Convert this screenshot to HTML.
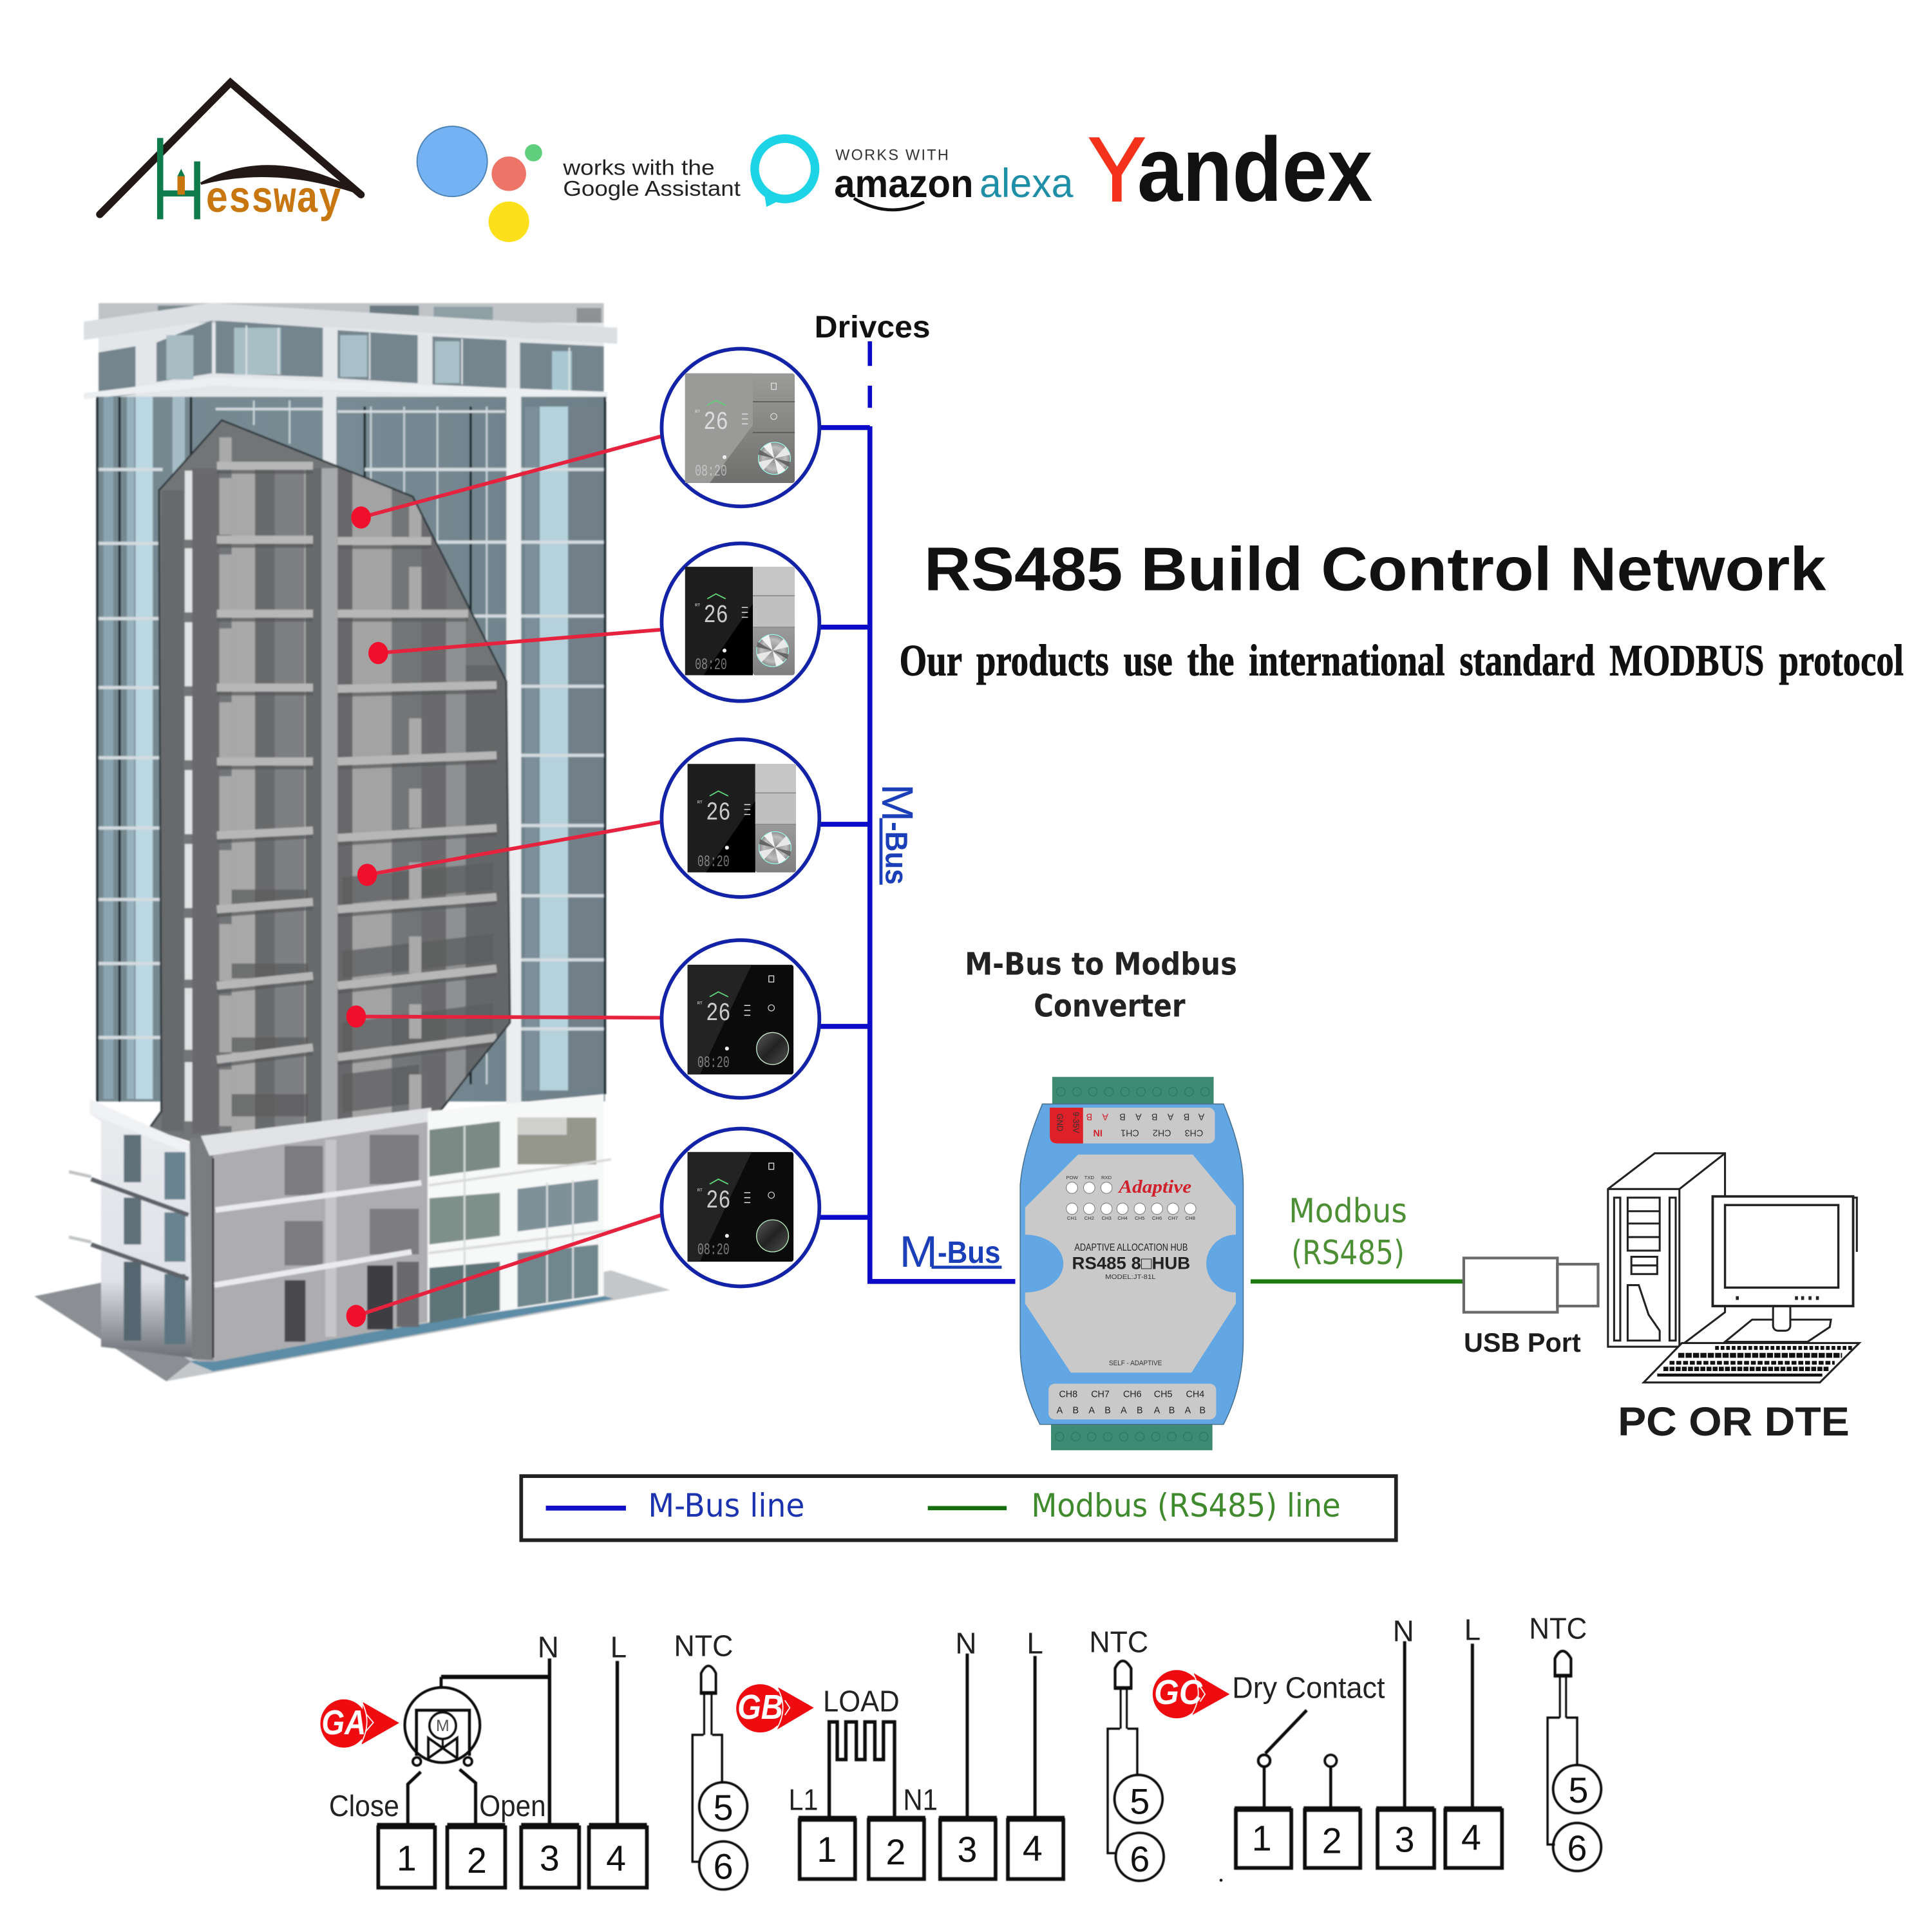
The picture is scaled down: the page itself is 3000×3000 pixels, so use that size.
<!DOCTYPE html>
<html><head><meta charset="utf-8"><title>RS485 Build Control Network</title>
<style>
html,body{margin:0;padding:0;background:#fff;width:3000px;height:3000px;overflow:hidden}
svg{display:block}
text{font-family:"Liberation Sans",sans-serif}
.w{font-size:24px;fill:#222}
.n{font-size:29px;fill:#111;text-anchor:middle}
.th{fill:#e8e8e8;font-family:"Liberation Mono",monospace}
</style></head><body>
<svg xmlns="http://www.w3.org/2000/svg" width="3000" height="3000" viewBox="0 0 1568 1568">
<defs>
<linearGradient id="glass" x1="0" y1="0" x2="1" y2="0"><stop offset="0" stop-color="#75878f"/><stop offset=".5" stop-color="#788b94"/><stop offset="1" stop-color="#6d7f88"/></linearGradient>
<linearGradient id="wing" x1="0" y1="0" x2="0" y2="1"><stop offset="0" stop-color="#e9ebee"/><stop offset=".7" stop-color="#e0e2e8"/><stop offset="1" stop-color="#6c7076"/></linearGradient>
<radialGradient id="knobr"><stop offset="0" stop-color="#8c8c8c"/><stop offset=".7" stop-color="#bdbdbd"/><stop offset="1" stop-color="#8a8a8a"/></radialGradient>
<linearGradient id="knobd" x1="0" y1="0" x2="1" y2="1"><stop offset="0" stop-color="#5a5a5a"/><stop offset=".5" stop-color="#222"/><stop offset="1" stop-color="#505050"/></linearGradient>
<linearGradient id="pan" x1="0" y1="0" x2="0" y2="1"><stop offset="0" stop-color="#bdbdbd"/><stop offset="1" stop-color="#7f7f7f"/></linearGradient>
<linearGradient id="pan1" x1="0" y1="0" x2="0" y2="1"><stop offset="0" stop-color="#9b9b99"/><stop offset="1" stop-color="#6f6f6e"/></linearGradient>
<filter id="soft" x="-5%" y="-5%" width="110%" height="110%"><feGaussianBlur stdDeviation=".6"/></filter>
<filter id="soft2"><feGaussianBlur stdDeviation=".3"/></filter>
<clipPath id="cutclip"><polygon points="180,341 335,403 411,553 414,830 381,871 350,911 348,916 160,928 121,916 131,902 129,398"/></clipPath>
<g id="kn"><circle r="13" fill="url(#knobr)" stroke="#9fe" stroke-width=".6"/><polygon points="0,0 -9,-9.5 -3,-13 " fill="#f2f2f2"/><polygon points="0,0 9,9.5 3,13" fill="#f2f2f2"/><polygon points="0,0 9,-9.5 13,-3" fill="#e8e8e8"/><polygon points="0,0 -9,9.5 -13,3" fill="#e8e8e8"/><polygon points="0,0 -13,-3 -12,-7" fill="#666"/><polygon points="0,0 13,3 12,7" fill="#666"/></g>
</defs>
<rect width="1568" height="1568" fill="#fff"/>

<!-- Hessway logo -->
<g>
<path d="M81 174 L187 67 L293 158" fill="none" stroke="#231815" stroke-width="6" stroke-linecap="round"/>
<path d="M163 149 Q222 117 295 158 Q225 133 163 149Z" fill="#231815" stroke="#231815" stroke-width="2"/>
<path d="M130 112 V178 M160 131 V178 M130 157 H160" stroke="#0f7a4a" stroke-width="5" fill="none"/>
<rect x="144" y="143" width="6" height="15" fill="#c8760f"/><path d="M144 143 L147 137 L150 143Z" fill="#0f7a4a"/>
<text x="167" y="172" font-size="36" font-weight="bold" fill="#c8760f" textLength="110" lengthAdjust="spacingAndGlyphs" style="font-family:'Liberation Mono',monospace">essway</text>
</g>

<!-- Google assistant -->
<circle cx="367" cy="131" r="28.5" fill="#74b2f4" stroke="#4d83b5" stroke-width="1"/>
<circle cx="413" cy="141" r="14" fill="#ee7468"/>
<circle cx="413" cy="180" r="16.5" fill="#fde01c"/>
<circle cx="433" cy="124" r="7" fill="#5fcf7e"/>
<text x="457" y="142" font-size="17.5" fill="#222" textLength="123" lengthAdjust="spacingAndGlyphs">works with the</text>
<text x="457" y="159" font-size="17.5" fill="#222" textLength="144" lengthAdjust="spacingAndGlyphs">Google Assistant</text>

<!-- Alexa -->
<circle cx="637" cy="137" r="24.5" fill="none" stroke="#1dd4e6" stroke-width="7"/>
<polygon points="620,155 634,162 622,168" fill="#1dd4e6"/>
<text x="678" y="130" font-size="12.5" fill="#333" letter-spacing="1.2" textLength="93" lengthAdjust="spacingAndGlyphs">WORKS WITH</text>
<text x="677" y="160" font-size="32" font-weight="bold" fill="#111" textLength="113" lengthAdjust="spacingAndGlyphs">amazon</text>
<text x="795" y="160" font-size="33" fill="#1f8fa8" textLength="76" lengthAdjust="spacingAndGlyphs">alexa</text>
<path d="M693 161 Q722 178 750 164" fill="none" stroke="#111" stroke-width="2.5"/>

<!-- Yandex -->
<text x="883" y="163" font-size="74" fill="#f4321c" stroke="#f4321c" stroke-width="1.2" textLength="47" lengthAdjust="spacingAndGlyphs">Y</text>
<text x="923" y="163" font-size="74" font-weight="bold" fill="#111" textLength="191" lengthAdjust="spacingAndGlyphs">andex</text>

<!-- Building -->
<g filter="url(#soft)">
<polygon points="28,1052 80,1043 160,1100 496,1031 544,1047 135,1121" fill="#c4c7ca"/>
<polygon points="28,1052 82,1041 140,1095 155,1105 135,1121" fill="#8b8f93"/>
<polygon points="154,1105 487,1051 498,1054 173,1113" fill="#5c8ca6"/>
<!-- top -->
<rect x="80" y="246" width="410" height="22" fill="#bfc3c6"/>
<rect x="128" y="248" width="30" height="10" fill="#7b8a90"/>
<rect x="300" y="248" width="40" height="14" fill="#6d7c82"/><rect x="352" y="249" width="48" height="15" fill="#8ea0a4"/><rect x="468" y="250" width="20" height="16" fill="#8f9295"/>
<rect x="80" y="262" width="410" height="60" fill="#e4e7e9"/>
<polygon points="80,286 110,281 110,320 80,324" fill="#74858e"/>
<polygon points="127,278 172,260 172,303 127,310" fill="#74858e"/>
<polygon points="175,260 262,266 262,306 175,303" fill="#74858e"/>
<polygon points="274,268 339,272 339,311 274,307" fill="#74858e"/>
<polygon points="351,273 411,276 411,315 351,312" fill="#74858e"/>
<polygon points="422,278 490,281 490,320 422,317" fill="#74858e"/>
<rect x="135" y="272" width="22" height="36" fill="#a8bcc4"/>
<rect x="190" y="266" width="38" height="38" fill="#a9bfc6"/><rect x="276" y="272" width="22" height="34" fill="#a9c0c8"/><rect x="353" y="277" width="20" height="34" fill="#a9c0c8"/><rect x="448" y="285" width="16" height="32" fill="#a9c8d2"/>
<path d="M200 264 V304 M226 266 V304 M300 270 V308 M375 275 V312 M462 282 V318" stroke="#dfe5e8" stroke-width="1.2"/>
<polygon points="68,261 172,246 501,266 501,279 172,260 68,276" fill="#dcdfe2"/>
<polygon points="68,319 174,306 493,318 493,325 174,313 68,324" fill="#eceef0"/>
<!-- glass facade -->
<rect x="79" y="322" width="412" height="572" fill="url(#glass)"/>
<rect x="103" y="322" width="6" height="570" fill="#98b2bd"/>
<rect x="110" y="322" width="14" height="570" fill="#bcd8e3"/>
<rect x="84" y="322" width="8" height="570" fill="#8aa5b1"/>
<rect x="140" y="322" width="10" height="90" fill="#a5bcc6"/>
<rect x="438" y="330" width="23" height="555" fill="#b5d1dc"/>
<rect x="464" y="330" width="25" height="555" fill="#727f88"/>
<rect x="426" y="330" width="11" height="555" fill="#7c8f9a"/>
<path d="M79 322 V894 M97 322 V894 M155 322 V370 M296 330 V410 M382 330 V880 M491 322 V888" stroke="#0e1a20" stroke-width="1.8"/>
<path d="M206 325 V345 M235 325 V360 M301 330 V410 M328 330 V410 M355 330 V470 M395 330 V880" stroke="#c9d4d9" stroke-width="1.4"/>
<g stroke="#d3dbdf" stroke-width="2.6">
<path d="M80 381 H132 M80 441 H132 M80 502 H132 M80 558 H132 M80 615 H132 M80 672 H132 M80 730 H132 M80 782 H132 M80 842 H132"/>
<path d="M296 381 H490 M330 440 H490 M380 500 H490 M411 557 H490 M422 613 H490 M422 670 H490 M422 727 H490 M422 779 H490 M422 835 H490"/>
<path d="M175 332 H262 M274 334 H410" stroke-width="2"/>
</g>
<rect x="411" y="318" width="12" height="579" fill="#ecedef"/>
<rect x="262" y="318" width="11" height="70" fill="#e6e9eb"/>

<!-- Cutaway -->
<g clip-path="url(#cutclip)">
<rect x="120" y="330" width="300" height="600" fill="#727476"/>
<rect x="131" y="398" width="18" height="520" fill="#68696b"/>
<rect x="156" y="380" width="22" height="540" fill="#6a6b6d"/>
<rect x="188" y="380" width="19" height="540" fill="#a8a8a9"/>
<rect x="207" y="380" width="16" height="540" fill="#696a6c"/>
<rect x="223" y="380" width="24" height="540" fill="#7e7f81"/>
<rect x="247" y="380" width="1.6" height="540" fill="#b0b0b0"/>
<rect x="248" y="380" width="13" height="540" fill="#686a6c"/>
<rect x="274" y="380" width="12" height="540" fill="#67686a"/>
<rect x="286" y="380" width="32" height="540" fill="#a3a3a4"/>
<rect x="318" y="380" width="14" height="540" fill="#737476"/>
<rect x="342" y="420" width="20" height="500" fill="#6a6b6d"/>
<rect x="362" y="500" width="16" height="420" fill="#8f9091"/>
<rect x="378" y="540" width="36" height="380" fill="#656668"/>
<g fill="#5b5c5e" opacity=".75">
<rect x="188" y="722" width="62" height="12"/><rect x="188" y="782" width="62" height="12"/><rect x="188" y="842" width="62" height="12"/><rect x="188" y="888" width="62" height="18"/>
<polygon points="278,712 400,700 400,722 278,734"/><polygon points="278,772 400,758 400,780 278,794"/><polygon points="278,830 400,814 400,838 278,854"/><polygon points="278,872 340,864 340,895 278,903"/>
</g>
<g fill="#a9a9aa">
<rect x="178" y="355" width="10" height="22"/><rect x="178" y="388" width="10" height="46"/><rect x="178" y="450" width="10" height="46"/><rect x="178" y="510" width="10" height="46"/><rect x="178" y="570" width="10" height="46"/><rect x="178" y="630" width="10" height="46"/><rect x="178" y="690" width="10" height="46"/><rect x="178" y="750" width="10" height="46"/><rect x="178" y="808" width="10" height="46"/><rect x="178" y="868" width="10" height="46"/>
<rect x="332" y="408" width="10" height="30"/><rect x="332" y="460" width="10" height="36"/><rect x="332" y="583" width="10" height="32"/><rect x="332" y="640" width="10" height="32"/><rect x="332" y="700" width="10" height="30"/><rect x="332" y="760" width="10" height="30"/><rect x="332" y="815" width="10" height="28"/><rect x="332" y="872" width="10" height="30"/>
</g>
<g fill="#e0e2e3">
<rect x="150" y="382" width="6" height="56"/><rect x="150" y="445" width="6" height="52"/><rect x="150" y="505" width="6" height="52"/><rect x="150" y="565" width="6" height="52"/><rect x="150" y="625" width="6" height="52"/><rect x="150" y="685" width="6" height="52"/><rect x="150" y="745" width="6" height="50"/><rect x="150" y="802" width="6" height="50"/><rect x="150" y="862" width="6" height="48"/>
</g>
<g stroke="#58595b" stroke-width="3" fill="none" opacity=".7">
<path d="M176 383 H254 M176 443 H254 M176 503 H254 M176 563 H254 M176 623 H254 M176 683 L254 679 M176 743 L254 737 M176 805 L254 797 M176 865 L254 855"/>
<path d="M274 444 H350 M274 503 H380 M274 564 L403 561 M274 623 L403 618 M274 685 L403 677 M274 743 L403 733 M274 805 L403 791 M274 863 L403 847"/>
</g>
<g stroke="#b7b7b8" stroke-width="6.5" fill="none">
<path d="M176 378 H254 M176 438 H254 M176 498 H254 M176 558 H254 M176 618 H254 M176 678 L254 674 M176 738 L254 732 M176 800 L254 792 M176 860 L254 850"/>
<path d="M274 439 H350 M274 498 H380 M274 559 L403 556 M274 618 L403 613 M274 680 L403 672 M274 738 L403 728 M274 800 L403 786 M274 858 L403 842"/>
</g>
<rect x="261" y="380" width="13" height="540" fill="#a8a9aa"/>
</g>
<path d="M121 916 L131 902 L129 398 L180 341 L335 403 L411 553 L414 830 L381 871 L350 911" fill="none" stroke="#2b343a" stroke-width="1.5"/>
<!-- lower white left -->
<polygon points="73,892 73,904 82,910 82,1093 156,1102 156,929 121,914" fill="url(#wing)"/>
<polygon points="73,892 121,914 153,929 153,936 73,904" fill="#f1f2f4"/>
<rect x="100.500" y="921" width="14" height="38.500" fill="#5e7079"/><rect x="133.500" y="935" width="17" height="38.500" fill="#6b8390"/>
<rect x="100.500" y="972" width="14" height="38" fill="#5e7079"/><rect x="133.500" y="984" width="17" height="40" fill="#6b8390"/>
<rect x="100.500" y="1024" width="14" height="64" fill="#55666f"/><rect x="133.500" y="1034" width="17" height="57" fill="#5c7480"/>
<path d="M74 957 L153 986 M74 1010 L153 1038" stroke="#5e6267" stroke-width="3.5" fill="none"/>
<path d="M56 951 L74 955 M56 1004 L74 1008" stroke="#c0c2c4" stroke-width="2.5" fill="none"/>
<!-- lower central -->
<polygon points="160,925 350,900 350,1072 175,1105 160,1105" fill="#adadb1"/>
<polygon points="154,923 173,925 173,1104 156,1103" fill="#7a7b7d"/>
<polygon points="163,922 350,899 350,910 170,938" fill="#e2e3e5"/>
<rect x="231" y="930" width="31" height="40" fill="#7b7b7f"/><rect x="300" y="921" width="40" height="40" fill="#7d7d80"/>
<rect x="231" y="991" width="31" height="36" fill="#7b7b7f"/><rect x="300" y="981" width="40" height="37" fill="#7d7d80"/>
<rect x="231" y="1039" width="17" height="50" fill="#4a4a4e"/><rect x="298" y="1027" width="21" height="52" fill="#3e3e42"/><rect x="322" y="1024" width="18" height="53" fill="#6b6b6d"/>
<rect x="264" y="925" width="9" height="160" fill="#c6c6c8"/>
<path d="M175 982 L342 960 M174 1043 L334 1016" stroke="#eaebec" stroke-width="4.5"/>
<path d="M173 940 V1102" stroke="#26282b" stroke-width="1.5"/>
<!-- lower right -->
<polygon points="347,902 490,888 490,1052 347,1073" fill="#f7f8f8"/>
<polygon points="348.500,917 405.700,910 405.700,947.400 348.500,955" fill="#7b8a85"/>
<rect x="420" y="907" width="64" height="38" fill="#96978c"/><rect x="420" y="907" width="40" height="14" fill="#cfd0cc"/>
<polygon points="348.500,972.500 405.700,968 405.700,1003 348.500,1010" fill="#7f908b"/>
<polygon points="420,965 485.500,957 485.500,991 420,999.500" fill="#7e9098"/>
<polygon points="348.500,1029 405.700,1024 405.700,1063.500 348.500,1074" fill="#5d7478"/>
<polygon points="420,1017 485.500,1010 485.500,1051 420,1061" fill="#6f878e"/>
<path d="M377 914 V1070 M444 960 V1058 M465 958 V1054" stroke="#d7dcdc" stroke-width="1.5"/>
<path d="M348 962 L496 941 M348 1017 L500 998" stroke="#d9dadb" stroke-width="2"/>
</g>

<!-- Red connectors -->
<g stroke="#e6233f" stroke-width="3" fill="none">
<path d="M293 420 L537 354"/><path d="M307 530 L537 511"/><path d="M298 710 L537 667"/><path d="M289 825 L537 826"/><path d="M289 1068 L537 986"/>
</g>
<g fill="#f0102e"><ellipse cx="293" cy="420" rx="8" ry="9"/><ellipse cx="307" cy="530" rx="8" ry="9"/><ellipse cx="298" cy="710" rx="8" ry="9"/><ellipse cx="289" cy="825" rx="8" ry="9"/><ellipse cx="289" cy="1068" rx="8" ry="9"/></g>

<!-- Bus -->
<g stroke="#0a0ac8" fill="none" stroke-width="4">
<path d="M706 277 V297 M706 313 V331" stroke-width="3.500"/>
<path d="M706 346 V1040 H824"/>
<path d="M665 347 H706 M665 509 H706 M665 669 H706 M665 833 H706 M665 988 H706"/>
</g>
<g fill="#fff" stroke="#1323a8" stroke-width="3">
<circle cx="601" cy="347" r="64"/><circle cx="601" cy="505" r="64"/><circle cx="601" cy="664" r="64"/><circle cx="601" cy="827" r="64"/><circle cx="601" cy="980" r="64"/>
</g>

<!-- Thermostat 1 gray -->
<g transform="translate(556,303)">
<rect width="89" height="89" rx="2" fill="url(#pan1)"/>
<polygon points="45,0 55,0 55,42 20,89 0,89 0,0" fill="#9a9a98"/>
<path d="M55 23 H89 M55 48 H89" stroke="#55544f" stroke-width=".8"/>
<path d="M18 26 L25 22 L33 26" stroke="#5fce76" stroke-width="1" fill="none"/>
<text class="th" x="15" y="45" font-size="21" textLength="20" lengthAdjust="spacingAndGlyphs" opacity=".85">26</text>
<text class="th" x="8" y="83" font-size="13" textLength="26" lengthAdjust="spacingAndGlyphs" opacity=".55">08:20</text>
<text class="th" x="8" y="32" font-size="3.5">RT</text>
<use href="#kn" x="72.500" y="69"/>
<circle cx="72" cy="35" r="2.500" fill="none" stroke="#ddd" stroke-width=".6"/>
<rect x="70" y="8" width="4" height="5" fill="none" stroke="#ddd" stroke-width=".7"/>
<circle cx="32" cy="68" r="1.600" fill="#eee"/>
<path d="M46 33 H51 M46 37 H51 M46 41 H51" stroke="#ddd" stroke-width=".8"/>
</g>
<!-- Thermostat 2 -->
<g transform="translate(556,460)">
<rect width="55" height="88" fill="#1d1d1d"/><polygon points="55,0 55,30 15,88 55,88" fill="#000"/>
<rect x="55" y="0" width="34" height="88" rx="2" fill="url(#pan)"/>
<rect x="55" y="0" width="34" height="23" fill="#c6c6c6"/><rect x="55" y="24" width="34" height="25" fill="#c0c0c0"/>
<path d="M55 23.500 H89 M55 49 H89" stroke="#7e7e7e" stroke-width=".6"/>
<path d="M18 26 L25 22 L33 26" stroke="#5fce76" stroke-width="1" fill="none"/>
<text class="th" x="15" y="45" font-size="21" textLength="20" lengthAdjust="spacingAndGlyphs" opacity=".85">26</text>
<text class="th" x="8" y="83" font-size="13" textLength="26" lengthAdjust="spacingAndGlyphs" opacity=".5">08:20</text>
<text class="th" x="8" y="32" font-size="3.500">RT</text>
<use href="#kn" x="71" y="68"/>
<circle cx="32" cy="68" r="1.600" fill="#eee"/>
<path d="M46 33 H51 M46 37 H51 M46 41 H51" stroke="#ddd" stroke-width=".8"/>
</g>
<!-- Thermostat 3 -->
<g transform="translate(558,620)">
<rect width="55" height="88" fill="#1d1d1d"/><polygon points="55,0 55,30 15,88 55,88" fill="#000"/>
<rect x="55" y="0" width="33" height="88" rx="2" fill="url(#pan)"/>
<rect x="55" y="0" width="33" height="23" fill="#c6c6c6"/><rect x="55" y="24" width="33" height="25" fill="#c0c0c0"/>
<path d="M55 23.500 H88 M55 49 H88" stroke="#7e7e7e" stroke-width=".6"/>
<path d="M18 26 L25 22 L33 26" stroke="#5fce76" stroke-width="1" fill="none"/>
<text class="th" x="15" y="45" font-size="21" textLength="20" lengthAdjust="spacingAndGlyphs" opacity=".85">26</text>
<text class="th" x="8" y="83" font-size="13" textLength="26" lengthAdjust="spacingAndGlyphs" opacity=".5">08:20</text>
<text class="th" x="8" y="32" font-size="3.500">RT</text>
<use href="#kn" x="71" y="68"/>
<circle cx="32" cy="68" r="1.600" fill="#eee"/>
<path d="M46 33 H51 M46 37 H51 M46 41 H51" stroke="#ddd" stroke-width=".8"/>
</g>
<!-- Thermostat 4 -->
<g transform="translate(558,783)">
<rect width="86" height="89" rx="2" fill="#0b0b0b"/><polygon points="0,0 52,0 10,89 0,89" fill="#232323"/>
<path d="M18 26 L25 22 L33 26" stroke="#5fce76" stroke-width="1" fill="none"/>
<text class="th" x="15" y="45" font-size="21" textLength="20" lengthAdjust="spacingAndGlyphs" opacity=".85">26</text>
<text class="th" x="8" y="83" font-size="13" textLength="26" lengthAdjust="spacingAndGlyphs" opacity=".5">08:20</text>
<text class="th" x="8" y="32" font-size="3.500">RT</text>
<circle cx="69" cy="68" r="13" fill="url(#knobd)" stroke="#c8e8d0" stroke-width=".7"/>
<circle cx="68" cy="35" r="2.500" fill="none" stroke="#ddd" stroke-width=".6"/>
<rect x="66" y="9" width="4" height="5" fill="none" stroke="#ddd" stroke-width=".7"/>
<circle cx="32" cy="68" r="1.600" fill="#eee"/>
<path d="M46 33 H51 M46 37 H51 M46 41 H51" stroke="#ddd" stroke-width=".8"/>
</g>
<!-- Thermostat 5 -->
<g transform="translate(558,935)">
<rect width="86" height="89" rx="2" fill="#0b0b0b"/><polygon points="0,0 52,0 10,89 0,89" fill="#232323"/>
<path d="M18 26 L25 22 L33 26" stroke="#5fce76" stroke-width="1" fill="none"/>
<text class="th" x="15" y="45" font-size="21" textLength="20" lengthAdjust="spacingAndGlyphs" opacity=".85">26</text>
<text class="th" x="8" y="83" font-size="13" textLength="26" lengthAdjust="spacingAndGlyphs" opacity=".5">08:20</text>
<text class="th" x="8" y="32" font-size="3.500">RT</text>
<circle cx="69" cy="68" r="13" fill="url(#knobd)" stroke="#b8f0c0" stroke-width=".7"/>
<circle cx="68" cy="35" r="2.500" fill="none" stroke="#ddd" stroke-width=".6"/>
<rect x="66" y="9" width="4" height="5" fill="none" stroke="#ddd" stroke-width=".7"/>
<circle cx="32" cy="68" r="1.600" fill="#eee"/>
<path d="M46 33 H51 M46 37 H51 M46 41 H51" stroke="#ddd" stroke-width=".8"/>
</g>

<!-- Titles -->
<text x="661" y="274" font-size="25" font-weight="bold" fill="#111" textLength="94" lengthAdjust="spacingAndGlyphs">Drivces</text>
<text x="750" y="479" font-size="50" font-weight="bold" fill="#111" textLength="732" lengthAdjust="spacingAndGlyphs">RS485 Build Control Network</text>
<text x="730" y="548" font-size="36" font-weight="bold" fill="#111" stroke="#111" stroke-width=".5" textLength="815" lengthAdjust="spacingAndGlyphs" style="font-family:'Liberation Serif',serif" word-spacing="6">Our products use the international standard MODBUS protocol</text>

<!-- M-Bus labels -->
<g transform="translate(716,636) rotate(90)">
<text x="0" y="0" font-size="36" fill="#1a3fb8" textLength="31" lengthAdjust="spacingAndGlyphs">M</text>
<text x="31" y="-3" font-size="25" font-weight="bold" fill="#1a3fb8" textLength="51" lengthAdjust="spacingAndGlyphs">-Bus</text>
<path d="M28 1 H82" stroke="#1a3fb8" stroke-width="2.500"/>
</g>
<text x="730" y="1028" font-size="36" fill="#1a3fb8" textLength="31" lengthAdjust="spacingAndGlyphs">M</text>
<text x="761" y="1025" font-size="25" font-weight="bold" fill="#1a3fb8" textLength="51" lengthAdjust="spacingAndGlyphs">-Bus</text>
<path d="M756 1028.500 H813" stroke="#1a3fb8" stroke-width="2.500"/>

<text x="783" y="791" font-size="25" font-weight="bold" fill="#222" textLength="221" lengthAdjust="spacingAndGlyphs" style="font-family:'DejaVu Sans',sans-serif">M-Bus to Modbus</text>
<text x="839" y="825" font-size="25" font-weight="bold" fill="#222" textLength="123" lengthAdjust="spacingAndGlyphs" style="font-family:'DejaVu Sans',sans-serif">Converter</text>

<!-- Hub -->
<rect x="854" y="874" width="131" height="24" fill="#3f8a72"/>
<rect x="853" y="1155" width="131" height="22" fill="#3f8a72"/>
<g fill="none" stroke="#2f7a62" stroke-width=".8">
<circle cx="861" cy="886" r="3.500"/><circle cx="874" cy="886" r="3.500"/><circle cx="887" cy="886" r="3.500"/><circle cx="900" cy="886" r="3.500"/><circle cx="913" cy="886" r="3.500"/><circle cx="926" cy="886" r="3.500"/><circle cx="939" cy="886" r="3.500"/><circle cx="952" cy="886" r="3.500"/><circle cx="965" cy="886" r="3.500"/><circle cx="978" cy="886" r="3.500"/>
<circle cx="860" cy="1166" r="3.500"/><circle cx="873" cy="1166" r="3.500"/><circle cx="886" cy="1166" r="3.500"/><circle cx="899" cy="1166" r="3.500"/><circle cx="912" cy="1166" r="3.500"/><circle cx="925" cy="1166" r="3.500"/><circle cx="938" cy="1166" r="3.500"/><circle cx="951" cy="1166" r="3.500"/><circle cx="964" cy="1166" r="3.500"/><circle cx="977" cy="1166" r="3.500"/>
</g>
<path d="M846 896 H993 Q1009 935 1009 962 V1088 Q1009 1125 993 1156 H844 Q828 1125 828 1093 V962 Q830 935 846 896Z" fill="#62a6e4" stroke="#47708f" stroke-width=".8"/>
<rect x="852" y="899" width="134" height="29" rx="5" fill="#c9c9c9"/>
<path d="M852 899 H879 V928 H858 Q852 928 852 922Z" fill="#de2028"/>
<rect x="851" y="1123" width="136" height="29" rx="5" fill="#c9c9c9"/>
<path d="M875 937 H968 L1003 979 V1002 A24 23.500 0 0 0 1003 1049 V1058 L967 1114 H869 L832 1058 V1049 A31 23.500 0 0 0 832 1002 V980Z" fill="#c9c9c9"/>
<g fill="#fff" stroke="#777" stroke-width=".5">
<circle cx="870" cy="964" r="4.600"/><circle cx="884" cy="964" r="4.600"/><circle cx="898" cy="964" r="4.600"/>
<circle cx="870" cy="981" r="4.600"/><circle cx="884" cy="981" r="4.600"/><circle cx="898" cy="981" r="4.600"/><circle cx="911" cy="981" r="4.600"/><circle cx="925" cy="981" r="4.600"/><circle cx="939" cy="981" r="4.600"/><circle cx="952" cy="981" r="4.600"/><circle cx="966" cy="981" r="4.600"/>
</g>
<g font-size="4" fill="#333" text-anchor="middle">
<text x="870" y="957">POW</text><text x="884" y="957">TXD</text><text x="898" y="957">RXD</text>
<text x="870" y="990">CH1</text><text x="884" y="990">CH2</text><text x="898" y="990">CH3</text><text x="911" y="990">CH4</text><text x="925" y="990">CH5</text><text x="939" y="990">CH6</text><text x="952" y="990">CH7</text><text x="966" y="990">CH8</text>
</g>
<text x="908" y="968" font-size="15" font-weight="bold" font-style="italic" fill="#d0202c" textLength="59" lengthAdjust="spacingAndGlyphs" style="font-family:'Liberation Serif',serif">Adaptive</text>
<text x="872" y="1015" font-size="8" fill="#222" textLength="92" lengthAdjust="spacingAndGlyphs">ADAPTIVE ALLOCATION HUB</text>
<text x="870" y="1030" font-size="14" font-weight="bold" fill="#222" textLength="96" lengthAdjust="spacingAndGlyphs">RS485 8□HUB</text>
<text x="897" y="1038" font-size="5.500" fill="#333" textLength="41" lengthAdjust="spacingAndGlyphs">MODEL:JT-81L</text>
<text x="900" y="1108" font-size="6" fill="#333" textLength="43" lengthAdjust="spacingAndGlyphs">SELF - ADAPTIVE</text>
<g font-size="7.500" fill="#222" text-anchor="middle">
<text x="867" y="1134">CH8</text><text x="893" y="1134">CH7</text><text x="919" y="1134">CH6</text><text x="944" y="1134">CH5</text><text x="970" y="1134">CH4</text>
<text x="860" y="1147">A</text><text x="873" y="1147">B</text><text x="886" y="1147">A</text><text x="899" y="1147">B</text><text x="912" y="1147">A</text><text x="925" y="1147">B</text><text x="939" y="1147">A</text><text x="951" y="1147">B</text><text x="964" y="1147">A</text><text x="976" y="1147">B</text>
</g>
<g font-size="7.500" fill="#333" text-anchor="middle">
<text transform="translate(975,904) rotate(180)">A</text><text transform="translate(963,904) rotate(180)">B</text><text transform="translate(950,904) rotate(180)">A</text><text transform="translate(937,904) rotate(180)">B</text><text transform="translate(924,904) rotate(180)">A</text><text transform="translate(911,904) rotate(180)">B</text>
<text transform="translate(969,917) rotate(180)">CH3</text><text transform="translate(943,917) rotate(180)">CH2</text><text transform="translate(917,917) rotate(180)">CH1</text>
<text transform="translate(897,904) rotate(180)" fill="#d0202c">A</text><text transform="translate(884,904) rotate(180)" fill="#d0202c">B</text><text transform="translate(891,917) rotate(180)" fill="#d0202c" font-weight="bold">IN</text>
<text transform="translate(858,911) rotate(90)" font-size="6.500">GND</text><text transform="translate(871,911) rotate(90)" font-size="6.500">9-35V</text>
</g>

<!-- Modbus -->
<path d="M1015 1040 H1188" stroke="#1f7a12" stroke-width="3.500"/>
<text x="1046" y="992" font-size="27" fill="#4c8f34" textLength="96" lengthAdjust="spacingAndGlyphs" style="font-family:'DejaVu Sans',sans-serif">Modbus</text>
<text x="1048" y="1026" font-size="27" fill="#4c8f34" textLength="92" lengthAdjust="spacingAndGlyphs" style="font-family:'DejaVu Sans',sans-serif">(RS485)</text>

<!-- USB -->
<g fill="#fff" stroke="#6a6a6a" stroke-width="2.200">
<rect x="1188" y="1021" width="76" height="44"/><rect x="1264" y="1026" width="33" height="34"/>
</g>
<text x="1188" y="1097" font-size="22" font-weight="bold" fill="#1c1c1c" textLength="95" lengthAdjust="spacingAndGlyphs">USB Port</text>
<text x="1313" y="1165" font-size="33" font-weight="bold" fill="#1c1c1c" textLength="188" lengthAdjust="spacingAndGlyphs">PC OR DTE</text>

<!-- Computer -->
<g fill="#fff" stroke="#222" stroke-width="1.600">
<polygon points="1343,936 1400,936 1400,1065 1363,1093 1305,1093 1305,965"/>
<path d="M1305 965 H1363 L1400 936 M1363 965 V1093" fill="none"/>
<rect x="1310" y="972" width="5" height="116"/><rect x="1355" y="972" width="5" height="116"/>
<rect x="1321" y="972" width="26" height="43"/><path d="M1321 983 H1347 M1321 993 H1347 M1321 1004 H1347" fill="none"/>
<rect x="1324" y="1020" width="21" height="14"/><path d="M1324 1027 H1345" fill="none"/>
<path d="M1321 1043 H1330 L1338 1067 L1347 1080 V1088 H1321Z"/>
<polygon points="1422,1071 1486,1071 1485,1077 1467,1089 1400,1089"/>
<rect x="1439" y="1058" width="14" height="22" rx="4"/>
<rect x="1390" y="971" width="114" height="89" stroke-width="2"/>
<path d="M1504 972 H1507 V1016" fill="none"/>
<rect x="1400" y="978" width="92" height="67" stroke-width="1.800"/>
<polygon points="1365,1090 1509,1090 1477,1122 1334,1122"/>
</g>
<path d="M1410 1052 V1055 M1458 1052 V1055 M1463 1052 V1055 M1469 1052 V1055 M1475 1052 V1055" stroke="#222" stroke-width="2.400"/>
<g fill="none" stroke="#111">
<path d="M1392 1094 H1503" stroke-width="3.200" stroke-dasharray="3 1.500"/>
<path d="M1362 1100 H1495" stroke-width="4" stroke-dasharray="5 1"/>
<path d="M1355 1106 H1489" stroke-width="3" stroke-dasharray="4 1.500"/>
<path d="M1350 1111 H1484" stroke-width="3.500" stroke-dasharray="4 1"/>
<path d="M1345 1116 H1479" stroke-width="2.400"/>
</g>

<!-- Legend -->
<rect x="423" y="1198" width="710" height="52" fill="#fff" stroke="#222" stroke-width="3"/>
<path d="M443 1224 H508" stroke="#1010c8" stroke-width="4"/>
<path d="M753 1224 H817" stroke="#176e0e" stroke-width="3.500"/>
<text x="526" y="1231" font-size="26" fill="#1c33b0" textLength="127" lengthAdjust="spacingAndGlyphs" style="font-family:'DejaVu Sans',sans-serif">M-Bus line</text>
<text x="837" y="1231" font-size="26" fill="#3f8a2c" textLength="251" lengthAdjust="spacingAndGlyphs" style="font-family:'DejaVu Sans',sans-serif">Modbus (RS485) line</text>

<!-- Wiring GA -->
<g fill="none" stroke="#111" stroke-width="3" filter="url(#soft2)">
<rect x="307" y="1483" width="46" height="49"/><rect x="363" y="1483" width="47" height="49"/><rect x="423" y="1483" width="47" height="49"/><rect x="478" y="1483" width="47" height="49"/>
<path d="M306 1482 H353 M363 1482 H410 M423 1482 H470 M478 1482 H525" stroke-width="5"/>
<path d="M446 1346 V1483 M501 1348 V1483" stroke-width="2.800"/>
<path d="M358 1361 H446" stroke-width="3.500"/><path d="M358 1361 V1370" stroke-width="2.500"/>
<circle cx="359" cy="1400" r="30.500" stroke-width="2.200"/>
<path d="M338 1425 V1388 H381 V1425" stroke-width="2.400"/>
<circle cx="359.300" cy="1400.500" r="10.800" stroke-width="1.800"/>
<path d="M347.600 1410.500 V1427 L371 1410.500 V1427 Z" stroke-width="2"/>
<path d="M359.300 1411 V1419" stroke-width="1.600"/>
<circle cx="338.300" cy="1429.600" r="3.300" stroke-width="2"/><circle cx="379.800" cy="1429.600" r="3.300" stroke-width="2"/>
<path d="M341.500 1438 L331 1448 V1483 M373 1436 L386 1447 V1483" stroke-width="2.600"/>
<!-- NTC A -->
<path d="M569 1374 V1358 Q575 1346 581 1358 V1374Z" stroke-width="2"/><path d="M568 1374 H582" stroke-width="3"/>
<path d="M571.500 1375 V1408 M577.500 1375 V1408" stroke-width="1.600"/>
<path d="M571 1408 H562 V1511 H568 M578 1408 H586 V1447" stroke-width="1.800"/>
<circle cx="587" cy="1466" r="19.500" stroke-width="2"/><circle cx="587" cy="1514" r="19.500" stroke-width="2"/>
<!-- GB -->
<rect x="649" y="1477" width="45" height="48"/><rect x="705" y="1477" width="45" height="48"/><rect x="763" y="1477" width="45" height="48"/><rect x="818" y="1477" width="45" height="48"/>
<path d="M648 1476 H695 M704 1476 H751 M762 1476 H809 M817 1476 H864" stroke-width="4.500"/>
<path d="M673 1476 V1397.500 H679.500 V1428 H686.500 V1397.500 H695 V1428 H702 V1397.500 H710 V1428 H717 V1397.500 H726 V1476" stroke-width="2.800"/>
<path d="M785 1342 V1476 M840 1344 V1476" stroke-width="2.600"/>
<path d="M905 1370 V1354 Q911 1342 918 1354 V1370Z" stroke-width="2.200"/><path d="M904 1370 H919" stroke-width="3"/>
<path d="M909.500 1371 V1403 M914.500 1371 V1403" stroke-width="1.600"/>
<path d="M909 1403 H899 V1504 H905 M915 1403 H923 V1441" stroke-width="1.800"/>
<circle cx="924" cy="1460" r="19.500" stroke-width="2"/><circle cx="925" cy="1507" r="19.500" stroke-width="2"/>
<!-- GC -->
<rect x="1003" y="1469" width="45" height="47"/><rect x="1059" y="1469" width="45" height="47"/><rect x="1118" y="1469" width="46" height="47"/><rect x="1173" y="1469" width="46" height="47"/>
<path d="M1002 1468 H1048 M1058 1468 H1104 M1117 1468 H1164 M1172 1468 H1219" stroke-width="4"/>
<path d="M1060.500 1388 L1027 1423" stroke-width="2.600"/>
<circle cx="1026" cy="1429" r="4.800" stroke-width="2.200"/><circle cx="1080" cy="1429" r="4.800" stroke-width="2"/>
<path d="M1026 1434 V1468 M1080 1434 V1468" stroke-width="2.400"/>
<path d="M1140 1332 V1468 M1195 1334 V1468" stroke-width="2.600"/>
<path d="M1262 1360 V1346 Q1268 1334 1275 1346 V1360Z" stroke-width="2.200"/><path d="M1261 1360 H1276" stroke-width="3"/>
<path d="M1266 1361 V1394 M1271 1361 V1394" stroke-width="1.600"/>
<path d="M1266 1394 H1256 V1497 H1262 M1271 1394 H1280 V1432" stroke-width="1.800"/>
<circle cx="1280" cy="1452" r="19.500" stroke-width="2"/><circle cx="1280" cy="1499" r="19.500" stroke-width="2"/>
</g>
<circle cx="991" cy="1526" r="1.200" fill="#111"/>

<!-- Wiring labels -->
<g class="labels">
<text x="359.300" y="1405" font-size="13" fill="#555" text-anchor="middle">M</text>
<text class="w" x="445" y="1345" text-anchor="middle">N</text><text class="w" x="502" y="1345" text-anchor="middle">L</text>
<text class="w" x="547" y="1344" textLength="48" lengthAdjust="spacingAndGlyphs">NTC</text>
<text class="w" x="267" y="1474" textLength="57" lengthAdjust="spacingAndGlyphs">Close</text>
<text class="w" x="389" y="1474" textLength="54" lengthAdjust="spacingAndGlyphs">Open</text>
<text class="n" x="330" y="1518">1</text><text class="n" x="387" y="1520">2</text><text class="n" x="446" y="1518">3</text><text class="n" x="500" y="1518">4</text>
<text class="n" x="587" y="1477">5</text><text class="n" x="587" y="1525">6</text>
<text class="w" x="668" y="1389" textLength="62" lengthAdjust="spacingAndGlyphs">LOAD</text>
<text class="w" x="640" y="1469" font-size="22" textLength="24" lengthAdjust="spacingAndGlyphs">L1</text>
<text class="w" x="733" y="1469" textLength="28" lengthAdjust="spacingAndGlyphs">N1</text>
<text class="n" x="671" y="1511">1</text><text class="n" x="727" y="1513">2</text><text class="n" x="785" y="1511">3</text><text class="n" x="838" y="1510">4</text>
<text class="w" x="784" y="1342" text-anchor="middle">N</text><text class="w" x="840" y="1342" text-anchor="middle">L</text>
<text class="w" x="884" y="1341" textLength="48" lengthAdjust="spacingAndGlyphs">NTC</text>
<text class="n" x="925" y="1472">5</text><text class="n" x="925" y="1519">6</text>
<text class="w" x="1000" y="1378" textLength="124" lengthAdjust="spacingAndGlyphs">Dry Contact</text>
<text class="n" x="1024" y="1502">1</text><text class="n" x="1081" y="1504">2</text><text class="n" x="1140" y="1503">3</text><text class="n" x="1194" y="1501">4</text>
<text class="w" x="1139" y="1332" text-anchor="middle">N</text><text class="w" x="1195" y="1331" text-anchor="middle">L</text>
<text class="w" x="1241" y="1330" textLength="47" lengthAdjust="spacingAndGlyphs">NTC</text>
<text class="n" x="1281" y="1463">5</text><text class="n" x="1280" y="1510">6</text>
</g>

<!-- Badges -->
<g fill="#ee0c10">
<path d="M294.500 1381.500 L324 1398.300 L293.600 1415.700Z"/><ellipse cx="279" cy="1398.800" rx="19" ry="19.600"/>
<path d="M631.600 1369.500 L660.500 1386 L631 1403.500Z"/><ellipse cx="617" cy="1386.500" rx="19.500" ry="19.600"/>
<path d="M969 1358 L998 1375 L968 1391.700Z"/><ellipse cx="955" cy="1375" rx="19.500" ry="19.600"/>
</g>
<g fill="none" stroke="#fff" stroke-width=".9">
<path d="M294 1382 Q302 1398 293 1415 M297 1391 L303 1398 L297 1405"/>
<path d="M631 1370 Q640 1386 630.500 1403 M637 1380 L641 1386 L637 1392"/>
<path d="M968.500 1358.500 Q977 1375 967.500 1391 M974 1369 L978 1375 L974 1381"/>
</g>
<g fill="#fff" font-size="28" font-weight="bold" font-style="italic">
<text x="261" y="1407.500" textLength="36" lengthAdjust="spacingAndGlyphs">GA</text>
<text x="598.500" y="1395" textLength="37" lengthAdjust="spacingAndGlyphs">GB</text>
<text x="936.700" y="1383" textLength="39" lengthAdjust="spacingAndGlyphs">GC</text>
</g>
</svg>
</body></html>
